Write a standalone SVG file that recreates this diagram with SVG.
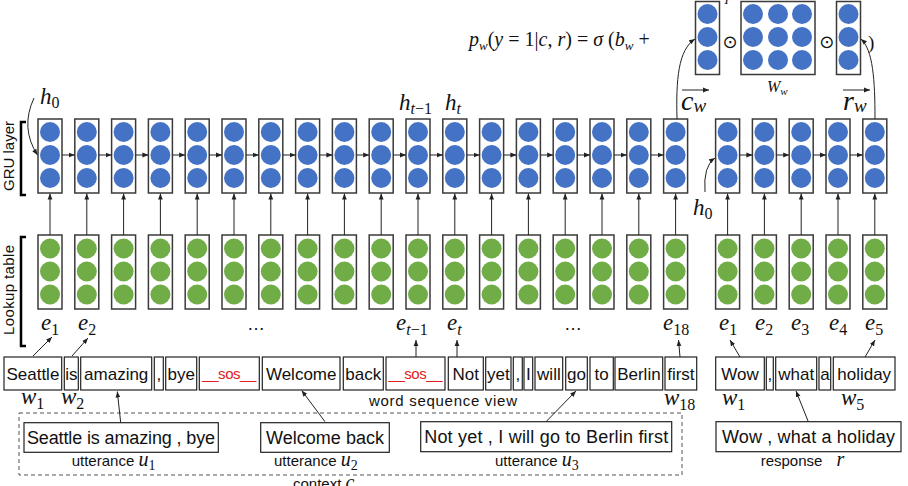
<svg xmlns="http://www.w3.org/2000/svg" xmlns:xlink="http://www.w3.org/1999/xlink" width="908" height="486" viewBox="0 0 908 486">
<style>
.box{fill:#fff;stroke:#3a3a3a;stroke-width:1.5}
.b{fill:#4472C4}
.g{fill:#70AD47}
.wb{fill:#fff;stroke:#222;stroke-width:1.2}
.wt{font-family:"Liberation Sans",Arial,sans-serif;font-size:17px;text-anchor:middle;fill:#111}
.red{fill:#e02020;font-size:15px}
.sans{font-family:"Liberation Sans",Arial,sans-serif;fill:#111}
.m{font-family:"Liberation Serif","Times New Roman",serif;font-style:italic;fill:#111}
.up{font-style:normal}
.conn line,.conn path{stroke:#222;stroke-width:1;fill:none;marker-end:url(#ah)}
.brk{fill:none;stroke:#000;stroke-width:2.5}
</style>
<defs>
<marker id="ah" viewBox="0 0 10 10" refX="10" refY="5" markerWidth="6" markerHeight="6" markerUnits="userSpaceOnUse" orient="auto"><path d="M0,1 L10,5 L0,9 z" fill="#222"/></marker>
<g id="bc"><rect class="box" x="0" y="119" width="24" height="74"/><circle class="b" cx="12" cy="132" r="10"/><circle class="b" cx="12" cy="155" r="10"/><circle class="b" cx="12" cy="178" r="10"/></g>
<g id="gc"><rect class="box" x="0" y="235" width="24" height="74"/><circle class="g" cx="12" cy="248.5" r="10"/><circle class="g" cx="12" cy="271.5" r="10"/><circle class="g" cx="12" cy="294.5" r="10"/></g>
</defs>
<rect width="908" height="486" fill="#fff"/>

<!-- side labels -->
<g id="gru-label">
<path class="brk" d="M26,122 L21,122 L21,195 L26,195"/>
<text class="sans" font-size="15" text-anchor="middle" transform="translate(14,156) rotate(-90)">GRU layer</text>
</g>
<g id="lookup-label">
<path class="brk" d="M26,237 L21,237 L21,346 L26,346"/>
<text class="sans" font-size="15" text-anchor="middle" textLength="90" transform="translate(14,290) rotate(-90)">Lookup table</text>
</g>

<!-- GRU context columns -->
<g id="h1"><use xlink:href="#bc" x="38"/></g>
<g id="h2"><use xlink:href="#bc" x="74.8"/></g>
<g id="h3"><use xlink:href="#bc" x="111.6"/></g>
<g id="h4"><use xlink:href="#bc" x="148.4"/></g>
<g id="h5"><use xlink:href="#bc" x="185.2"/></g>
<g id="h6"><use xlink:href="#bc" x="222"/></g>
<g id="h7"><use xlink:href="#bc" x="258.8"/></g>
<g id="h8"><use xlink:href="#bc" x="295.6"/></g>
<g id="h9"><use xlink:href="#bc" x="332.4"/></g>
<g id="h10"><use xlink:href="#bc" x="369.2"/></g>
<g id="h11"><use xlink:href="#bc" x="406"/></g>
<g id="h12"><use xlink:href="#bc" x="442.8"/></g>
<g id="h13"><use xlink:href="#bc" x="479.6"/></g>
<g id="h14"><use xlink:href="#bc" x="516.4"/></g>
<g id="h15"><use xlink:href="#bc" x="553.2"/></g>
<g id="h16"><use xlink:href="#bc" x="590"/></g>
<g id="h17"><use xlink:href="#bc" x="626.8"/></g>
<g id="h18"><use xlink:href="#bc" x="663.6"/></g>
<!-- GRU response columns -->
<g id="rh1"><use xlink:href="#bc" x="715.6"/></g>
<g id="rh2"><use xlink:href="#bc" x="752.4"/></g>
<g id="rh3"><use xlink:href="#bc" x="789.2"/></g>
<g id="rh4"><use xlink:href="#bc" x="826"/></g>
<g id="rh5"><use xlink:href="#bc" x="862.8"/></g>

<!-- Lookup context columns -->
<g id="e1"><use xlink:href="#gc" x="38"/></g>
<g id="e2"><use xlink:href="#gc" x="74.8"/></g>
<g id="e3"><use xlink:href="#gc" x="111.6"/></g>
<g id="e4"><use xlink:href="#gc" x="148.4"/></g>
<g id="e5"><use xlink:href="#gc" x="185.2"/></g>
<g id="e6"><use xlink:href="#gc" x="222"/></g>
<g id="e7"><use xlink:href="#gc" x="258.8"/></g>
<g id="e8"><use xlink:href="#gc" x="295.6"/></g>
<g id="e9"><use xlink:href="#gc" x="332.4"/></g>
<g id="e10"><use xlink:href="#gc" x="369.2"/></g>
<g id="e11"><use xlink:href="#gc" x="406"/></g>
<g id="e12"><use xlink:href="#gc" x="442.8"/></g>
<g id="e13"><use xlink:href="#gc" x="479.6"/></g>
<g id="e14"><use xlink:href="#gc" x="516.4"/></g>
<g id="e15"><use xlink:href="#gc" x="553.2"/></g>
<g id="e16"><use xlink:href="#gc" x="590"/></g>
<g id="e17"><use xlink:href="#gc" x="626.8"/></g>
<g id="e18"><use xlink:href="#gc" x="663.6"/></g>
<g id="re1"><use xlink:href="#gc" x="715.6"/></g>
<g id="re2"><use xlink:href="#gc" x="752.4"/></g>
<g id="re3"><use xlink:href="#gc" x="789.2"/></g>
<g id="re4"><use xlink:href="#gc" x="826"/></g>
<g id="re5"><use xlink:href="#gc" x="862.8"/></g>

<!-- formula -->
<g id="formula">
<text class="m" x="469" y="46" font-size="20">p<tspan font-size="13" dy="4">w</tspan><tspan class="up" dy="-4">(</tspan>y<tspan class="up"> = 1|</tspan>c<tspan class="up">, </tspan>r<tspan class="up">) = </tspan>σ<tspan class="up"> (</tspan>b<tspan font-size="13" dy="4">w</tspan><tspan class="up" dy="-4"> +</tspan></text>
<text class="m" x="723" y="4" font-size="13">T</text>
<text class="sans" x="730" y="48" font-size="18" text-anchor="middle" style="font-family:'DejaVu Sans',sans-serif">⊙</text>
<text class="sans" x="826.7" y="48" font-size="18" text-anchor="middle" style="font-family:'DejaVu Sans',sans-serif">⊙</text>
<text class="m up" x="868" y="49" font-size="19">)</text>
</g>
<g id="cw-vec">
<rect class="box" x="695.5" y="1.5" width="24" height="73"/>
<circle class="b" cx="707.5" cy="14" r="10"/><circle class="b" cx="707.5" cy="37" r="10"/><circle class="b" cx="707.5" cy="60" r="10"/>
</g>
<g id="Ww">
<rect class="box" x="741" y="1.5" width="74" height="73"/>
<circle class="b" cx="753" cy="14" r="10"/><circle class="b" cx="778" cy="14" r="10"/><circle class="b" cx="802" cy="14" r="10"/>
<circle class="b" cx="753" cy="37" r="10"/><circle class="b" cx="778" cy="37" r="10"/><circle class="b" cx="802" cy="37" r="10"/>
<circle class="b" cx="753" cy="60" r="10"/><circle class="b" cx="778" cy="60" r="10"/><circle class="b" cx="802" cy="60" r="10"/>
<text class="m" x="767" y="92" font-size="16">W<tspan font-size="11" dy="3">w</tspan></text>
</g>
<g id="rw-vec">
<rect class="box" x="836.5" y="1.5" width="24" height="73"/>
<circle class="b" cx="848.5" cy="14" r="10"/><circle class="b" cx="848.5" cy="37" r="10"/><circle class="b" cx="848.5" cy="60" r="10"/>
</g>
<g id="cw-label">
<line x1="682" y1="90" x2="709" y2="90" stroke="#222" stroke-width="1" marker-end="url(#ah)"/>
<text class="m" x="681" y="110" font-size="28">c<tspan font-size="19" dy="2">w</tspan></text>
</g>
<g id="rw-label">
<line x1="843" y1="90" x2="870" y2="90" stroke="#222" stroke-width="1" marker-end="url(#ah)"/>
<text class="m" x="843" y="110" font-size="28">r<tspan font-size="19" dy="2">w</tspan></text>
</g>

<!-- h labels -->
<g id="h-labels">
<text class="m" x="40" y="104" font-size="23">h<tspan class="up" font-size="16" dy="4">0</tspan></text>
<text class="m" x="399" y="110" font-size="23">h<tspan font-size="16" dy="4">t</tspan><tspan class="up" font-size="16">−1</tspan></text>
<text class="m" x="445" y="110" font-size="23">h<tspan font-size="16" dy="4">t</tspan></text>
<text class="m" x="693" y="215" font-size="23">h<tspan class="up" font-size="16" dy="4">0</tspan></text>
</g>

<!-- e labels -->
<g id="e-labels">
<text class="m" x="41" y="330" font-size="23">e<tspan class="up" font-size="16" dy="5">1</tspan></text>
<text class="m" x="78" y="330" font-size="23">e<tspan class="up" font-size="16" dy="5">2</tspan></text>
<text class="sans" x="256" y="330" font-size="18" text-anchor="middle">…</text>
<text class="m" x="396" y="330" font-size="23">e<tspan font-size="16" dy="5">t</tspan><tspan class="up" font-size="16">−1</tspan></text>
<text class="m" x="447" y="330" font-size="23">e<tspan font-size="16" dy="5">t</tspan></text>
<text class="sans" x="573" y="330" font-size="18" text-anchor="middle">…</text>
<text class="m" x="663" y="330" font-size="23">e<tspan class="up" font-size="16" dy="5">18</tspan></text>
<text class="m" x="719" y="330" font-size="23">e<tspan class="up" font-size="16" dy="5">1</tspan></text>
<text class="m" x="755" y="330" font-size="23">e<tspan class="up" font-size="16" dy="5">2</tspan></text>
<text class="m" x="791" y="330" font-size="23">e<tspan class="up" font-size="16" dy="5">3</tspan></text>
<text class="m" x="829" y="330" font-size="23">e<tspan class="up" font-size="16" dy="5">4</tspan></text>
<text class="m" x="865" y="330" font-size="23">e<tspan class="up" font-size="16" dy="5">5</tspan></text>
</g>

<!-- word sequence -->
<g id="w-seattle"><rect class="wb" x="4" y="357" width="57.7" height="33"/><text class="wt" x="32.9" y="379.5">Seattle</text></g>
<g id="w-is"><rect class="wb" x="64.3" y="357" width="14" height="33"/><text class="wt" x="71.3" y="379.5">is</text></g>
<g id="w-amazing"><rect class="wb" x="80.7" y="357" width="71" height="33"/><text class="wt" x="116.2" y="379.5">amazing</text></g>
<g id="w-comma1"><rect class="wb" x="154.3" y="357" width="9" height="33"/><text class="wt" x="158.8" y="379.5">,</text></g>
<g id="w-bye"><rect class="wb" x="165.7" y="357" width="31" height="33"/><text class="wt" x="181.2" y="379.5">bye</text></g>
<g id="w-sos1"><rect class="wb" x="199.3" y="357" width="60" height="33"/><text class="wt red" x="229.3" y="379" textLength="54">__sos__</text></g>
<g id="w-welcome"><rect class="wb" x="262.3" y="357" width="77.7" height="33"/><text class="wt" x="301.2" y="379.5">Welcome</text></g>
<g id="w-back"><rect class="wb" x="343.3" y="357" width="40" height="33"/><text class="wt" x="363.3" y="379.5">back</text></g>
<g id="w-sos2"><rect class="wb" x="386" y="357" width="59" height="33"/><text class="wt red" x="415.5" y="379" textLength="54">__sos__</text></g>
<g id="w-not"><rect class="wb" x="448.3" y="357" width="35" height="33"/><text class="wt" x="465.8" y="379.5">Not</text></g>
<g id="w-yet"><rect class="wb" x="485.7" y="357" width="25.3" height="33"/><text class="wt" x="498.4" y="379.5">yet</text></g>
<g id="w-comma2"><rect class="wb" x="513.3" y="357" width="9" height="33"/><text class="wt" x="517.8" y="379.5">,</text></g>
<g id="w-I"><rect class="wb" x="524" y="357" width="8.7" height="33"/><text class="wt" x="528.4" y="379.5">I</text></g>
<g id="w-will"><rect class="wb" x="535" y="357" width="27.7" height="33"/><text class="wt" x="548.9" y="379.5">will</text></g>
<g id="w-go"><rect class="wb" x="565.7" y="357" width="21.6" height="33"/><text class="wt" x="576.5" y="379.5">go</text></g>
<g id="w-to"><rect class="wb" x="590" y="357" width="23.3" height="33"/><text class="wt" x="601.7" y="379.5">to</text></g>
<g id="w-berlin"><rect class="wb" x="615" y="357" width="47.7" height="33"/><text class="wt" x="638.9" y="379.5">Berlin</text></g>
<g id="w-first"><rect class="wb" x="665" y="357" width="31.7" height="33"/><text class="wt" x="680.9" y="379.5">first</text></g>
<g id="r-wow"><rect class="wb" x="715.7" y="357" width="48.6" height="33"/><text class="wt" x="740" y="379.5">Wow</text></g>
<g id="r-comma"><rect class="wb" x="766.3" y="357" width="7" height="33"/><text class="wt" x="769.8" y="379.5">,</text></g>
<g id="r-what"><rect class="wb" x="775.7" y="357" width="41" height="33"/><text class="wt" x="796.2" y="379.5">what</text></g>
<g id="r-a"><rect class="wb" x="819" y="357" width="11.7" height="33"/><text class="wt" x="824.9" y="379.5">a</text></g>
<g id="r-holiday"><rect class="wb" x="833.3" y="357" width="61.7" height="33"/><text class="wt" x="864.2" y="379.5">holiday</text></g>

<g id="w-labels">
<text class="m" x="21" y="404" font-size="23">w<tspan class="up" font-size="16" dy="5">1</tspan></text>
<text class="m" x="61" y="404" font-size="23">w<tspan class="up" font-size="16" dy="5">2</tspan></text>
<text class="sans" x="369" y="406" font-size="15" textLength="148">word sequence view</text>
<text class="m" x="664" y="405" font-size="23">w<tspan class="up" font-size="16" dy="5">18</tspan></text>
<text class="m" x="722" y="405" font-size="23">w<tspan class="up" font-size="16" dy="5">1</tspan></text>
<text class="m" x="841" y="405" font-size="23">w<tspan class="up" font-size="16" dy="5">5</tspan></text>
</g>

<!-- context -->
<g id="context">
<rect x="19" y="413" width="663" height="62" fill="none" stroke="#555" stroke-width="1" stroke-dasharray="4,3"/>
<text class="sans" x="293" y="489" font-size="15">context <tspan class="m" font-size="20">c</tspan></text>
</g>
<g id="u1"><rect class="wb" x="24" y="422.7" width="194.3" height="29.6"/><text class="sans" x="121" y="444" font-size="18" text-anchor="middle" textLength="188">Seattle is amazing , bye</text>
<text class="sans" x="71.7" y="466" font-size="15">utterance <tspan class="m" font-size="20">u</tspan><tspan class="up" font-family="Liberation Serif" font-size="14" dy="4">1</tspan></text></g>
<g id="u2"><rect class="wb" x="260.7" y="422.7" width="128.6" height="29.6"/><text class="sans" x="325" y="444" font-size="18" text-anchor="middle" textLength="118">Welcome back</text>
<text class="sans" x="274" y="466" font-size="15">utterance <tspan class="m" font-size="20">u</tspan><tspan class="up" font-family="Liberation Serif" font-size="14" dy="4">2</tspan></text></g>
<g id="u3"><rect class="wb" x="420.7" y="421.7" width="251" height="30"/><text class="sans" x="546.2" y="443" font-size="18" text-anchor="middle" textLength="244">Not yet , I will go to Berlin first</text>
<text class="sans" x="495" y="466" font-size="15">utterance <tspan class="m" font-size="20">u</tspan><tspan class="up" font-family="Liberation Serif" font-size="14" dy="4">3</tspan></text></g>
<g id="resp"><rect class="wb" x="716" y="421.7" width="185" height="30"/><text class="sans" x="808.4" y="443" font-size="18" text-anchor="middle" textLength="173">Wow , what a holiday</text>
<text class="sans" x="760.7" y="466" font-size="15">response <tspan class="m" font-size="20" dx="10">r</tspan></text></g>

<!-- connectors -->
<g class="conn" id="connectors">
<line x1="62" y1="155" x2="74.8" y2="155"/>
<line x1="98.8" y1="155" x2="111.6" y2="155"/>
<line x1="135.6" y1="155" x2="148.4" y2="155"/>
<line x1="172.4" y1="155" x2="185.2" y2="155"/>
<line x1="209.2" y1="155" x2="222" y2="155"/>
<line x1="246" y1="155" x2="258.8" y2="155"/>
<line x1="282.8" y1="155" x2="295.6" y2="155"/>
<line x1="319.6" y1="155" x2="332.4" y2="155"/>
<line x1="356.4" y1="155" x2="369.2" y2="155"/>
<line x1="393.2" y1="155" x2="406" y2="155"/>
<line x1="430" y1="155" x2="442.8" y2="155"/>
<line x1="466.8" y1="155" x2="479.6" y2="155"/>
<line x1="503.6" y1="155" x2="516.4" y2="155"/>
<line x1="540.4" y1="155" x2="553.2" y2="155"/>
<line x1="577.2" y1="155" x2="590" y2="155"/>
<line x1="614" y1="155" x2="626.8" y2="155"/>
<line x1="650.8" y1="155" x2="663.6" y2="155"/>
<line x1="739.6" y1="155" x2="752.4" y2="155"/>
<line x1="776.4" y1="155" x2="789.2" y2="155"/>
<line x1="813.2" y1="155" x2="826" y2="155"/>
<line x1="850" y1="155" x2="862.8" y2="155"/>

<line x1="50" y1="235" x2="50" y2="193.5"/>
<line x1="86.8" y1="235" x2="86.8" y2="193.5"/>
<line x1="123.6" y1="235" x2="123.6" y2="193.5"/>
<line x1="160.4" y1="235" x2="160.4" y2="193.5"/>
<line x1="197.2" y1="235" x2="197.2" y2="193.5"/>
<line x1="234" y1="235" x2="234" y2="193.5"/>
<line x1="270.8" y1="235" x2="270.8" y2="193.5"/>
<line x1="307.6" y1="235" x2="307.6" y2="193.5"/>
<line x1="344.4" y1="235" x2="344.4" y2="193.5"/>
<line x1="381.2" y1="235" x2="381.2" y2="193.5"/>
<line x1="418" y1="235" x2="418" y2="193.5"/>
<line x1="454.8" y1="235" x2="454.8" y2="193.5"/>
<line x1="491.6" y1="235" x2="491.6" y2="193.5"/>
<line x1="528.4" y1="235" x2="528.4" y2="193.5"/>
<line x1="565.2" y1="235" x2="565.2" y2="193.5"/>
<line x1="602" y1="235" x2="602" y2="193.5"/>
<line x1="638.8" y1="235" x2="638.8" y2="193.5"/>
<line x1="675.6" y1="235" x2="675.6" y2="193.5"/>
<line x1="727.6" y1="235" x2="727.6" y2="193.5"/>
<line x1="764.4" y1="235" x2="764.4" y2="193.5"/>
<line x1="801.2" y1="235" x2="801.2" y2="193.5"/>
<line x1="838" y1="235" x2="838" y2="193.5"/>
<line x1="874.8" y1="235" x2="874.8" y2="193.5"/>

<path d="M34,98 Q20,128 37.5,155"/>
<path d="M705,192 Q703,166 715,158"/>
<path d="M677,119 C676,80 678,50 695,39"/>
<path d="M875,119 C875,80 873,50 861,39"/>

<line x1="33" y1="356" x2="52" y2="337"/>
<line x1="72" y1="356" x2="88" y2="338"/>
<line x1="416" y1="357" x2="416" y2="340"/>
<line x1="457" y1="357" x2="457" y2="340"/>
<line x1="680" y1="357" x2="678.5" y2="340"/>
<line x1="740" y1="357" x2="730" y2="340"/>
<line x1="865" y1="357" x2="875" y2="340"/>

<line x1="120.7" y1="422.7" x2="117.3" y2="391.5"/>
<line x1="325" y1="421.7" x2="301.7" y2="390.5"/>
<line x1="546.7" y1="421" x2="576" y2="391"/>
<line x1="808.3" y1="421.7" x2="796" y2="391"/>
</g>
</svg>
